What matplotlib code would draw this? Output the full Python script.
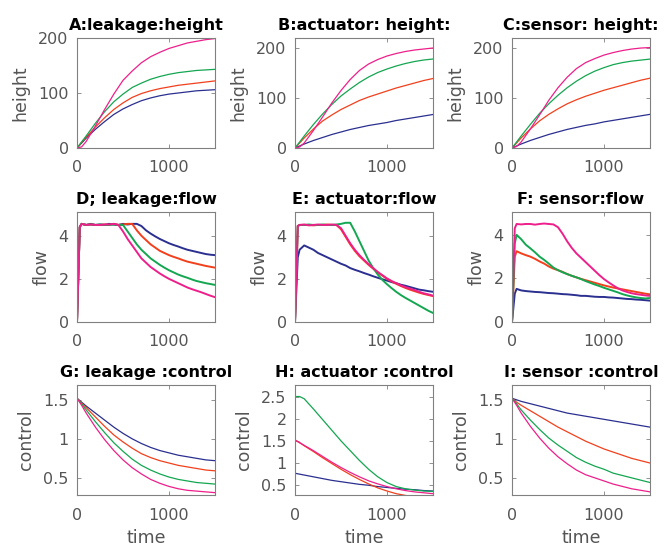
import numpy as np
import matplotlib
matplotlib.use("Agg")
import matplotlib.pyplot as plt
from matplotlib.ticker import FuncFormatter

# time grids
t_smooth = [0, 50, 100, 200, 300, 400, 500, 600, 700, 800, 900, 1000, 1100, 1200, 1300, 1400, 1500]
t_flow = [0, 30, 50, 100, 150, 200, 250, 300, 350, 400, 450, 500, 550, 600, 650, 700,
          750, 800, 850, 900, 950, 1000, 1050, 1100, 1150, 1200, 1250, 1300, 1350, 1400, 1450, 1500]

# A : leakage height
a_blue = [0, 9, 18, 34, 48, 61, 71, 79, 86, 91, 95, 98, 100, 102, 104, 105, 106]
a_red = [0, 10, 20, 38, 55, 70, 82, 92, 99, 104, 108, 111, 114, 116, 118, 120, 122]
a_green = [0, 11, 22, 45, 66, 84, 98, 110, 118, 125, 130, 134, 137, 139, 141, 142, 143]
a_mag = [0, 2, 12, 40, 70, 98, 123, 140, 155, 166, 174, 181, 186, 191, 194, 197, 199]

# B : actuator height
b_blue = [0, 4, 8, 15, 21, 27, 32, 37, 41, 45, 48, 51, 55, 58, 61, 64, 67]
b_red = [0, 10, 20, 38, 54, 66, 77, 86, 95, 102, 108, 114, 120, 125, 130, 135, 139]
b_green = [0, 12, 24, 47, 68, 87, 104, 118, 131, 142, 151, 158, 164, 169, 173, 176, 178]
b_mag = [0, 2, 10, 35, 62, 90, 115, 137, 155, 168, 177, 184, 189, 193, 196, 198, 200]

# C : sensor height
c_blue = [0, 4, 8, 15, 21, 27, 32, 37, 41, 45, 48, 52, 55, 58, 61, 64, 67]
c_red = [0, 10, 20, 38, 54, 67, 78, 88, 96, 103, 109, 115, 120, 125, 130, 135, 139]
c_green = [0, 12, 24, 47, 69, 88, 105, 120, 133, 144, 153, 160, 166, 170, 173, 175, 177]
c_mag = [0, 3, 12, 38, 66, 95, 120, 141, 158, 170, 178, 185, 190, 194, 197, 199, 200]

# D : leakage flow
d_blue = [0, 4.4, 4.55, 4.5, 4.55, 4.5, 4.52, 4.5, 4.55, 4.52, 4.5, 4.55, 4.52, 4.55, 4.55, 4.45,
          4.25, 4.1, 3.97, 3.85, 3.75, 3.65, 3.57, 3.5, 3.42, 3.35, 3.3, 3.25, 3.2, 3.15, 3.12, 3.1]
d_red = [0, 4.4, 4.55, 4.5, 4.52, 4.5, 4.5, 4.52, 4.5, 4.55, 4.5, 4.52, 4.55, 4.55, 4.25, 4.0,
         3.8, 3.6, 3.45, 3.3, 3.2, 3.1, 3.02, 2.95, 2.87, 2.8, 2.75, 2.7, 2.65, 2.6, 2.56, 2.52]
d_green = [0, 4.4, 4.55, 4.5, 4.52, 4.5, 4.52, 4.5, 4.5, 4.52, 4.5, 4.5, 4.2, 3.9, 3.6, 3.35,
           3.15, 2.95, 2.8, 2.65, 2.52, 2.4, 2.3, 2.2, 2.12, 2.05, 1.97, 1.9, 1.85, 1.8, 1.76, 1.72]
d_mag = [0, 4.4, 4.55, 4.5, 4.52, 4.5, 4.5, 4.52, 4.52, 4.55, 4.5, 4.2, 3.85, 3.55, 3.25, 2.95,
         2.75, 2.55, 2.4, 2.25, 2.12, 2.0, 1.9, 1.8, 1.7, 1.6, 1.52, 1.45, 1.38, 1.3, 1.22, 1.15]

# E : actuator flow
e_blue = [0, 3.0, 3.35, 3.55, 3.45, 3.35, 3.2, 3.1, 3.0, 2.9, 2.8, 2.7, 2.62, 2.5, 2.42, 2.35,
          2.27, 2.2, 2.12, 2.05, 1.98, 1.92, 1.85, 1.8, 1.73, 1.68, 1.62, 1.56, 1.5, 1.47, 1.43, 1.4]
e_red = [0, 4.45, 4.5, 4.5, 4.5, 4.48, 4.5, 4.5, 4.52, 4.5, 4.5, 4.3, 3.95, 3.6, 3.3, 3.05,
         2.85, 2.65, 2.47, 2.3, 2.15, 2.0, 1.88, 1.77, 1.67, 1.58, 1.5, 1.43, 1.36, 1.3, 1.25, 1.2]
e_green = [0, 4.45, 4.5, 4.5, 4.52, 4.5, 4.5, 4.52, 4.5, 4.5, 4.52, 4.55, 4.6, 4.6, 4.2, 3.75,
           3.3, 2.85, 2.5, 2.2, 1.95, 1.75, 1.57, 1.4, 1.25, 1.12, 1.0, 0.88, 0.76, 0.64, 0.52, 0.42]
e_mag = [0, 4.45, 4.5, 4.52, 4.48, 4.5, 4.52, 4.5, 4.5, 4.52, 4.5, 4.35, 4.0, 3.65, 3.35, 3.1,
         2.88, 2.68, 2.5, 2.32, 2.17, 2.02, 1.9, 1.8, 1.7, 1.62, 1.55, 1.48, 1.4, 1.33, 1.28, 1.22]

# F : sensor flow
f_blue = [0, 1.3, 1.52, 1.45, 1.42, 1.4, 1.38, 1.37, 1.35, 1.33, 1.32, 1.3, 1.28, 1.27, 1.25, 1.23,
          1.2, 1.2, 1.18, 1.16, 1.15, 1.15, 1.13, 1.12, 1.1, 1.08, 1.06, 1.05, 1.03, 1.02, 1.0, 0.98]
f_red = [0, 3.0, 3.25, 3.15, 3.07, 3.0, 2.9, 2.78, 2.68, 2.55, 2.45, 2.38, 2.3, 2.2, 2.12, 2.05,
         1.98, 1.92, 1.86, 1.8, 1.74, 1.68, 1.63, 1.58, 1.54, 1.5, 1.46, 1.42, 1.38, 1.34, 1.3, 1.27]
f_green = [0, 3.6, 4.0, 3.8, 3.55, 3.38, 3.2, 3.0, 2.85, 2.68, 2.5, 2.38, 2.28, 2.2, 2.12, 2.05,
           1.97, 1.88, 1.8, 1.72, 1.65, 1.57, 1.5, 1.43, 1.36, 1.28, 1.22, 1.17, 1.13, 1.1, 1.08, 1.1]
f_mag = [0, 4.3, 4.5, 4.48, 4.5, 4.5, 4.47, 4.5, 4.52, 4.5, 4.48, 4.35, 4.05, 3.7, 3.4, 3.15,
         2.95, 2.75, 2.55, 2.35, 2.15, 1.97, 1.82, 1.68, 1.55, 1.45, 1.38, 1.32, 1.28, 1.25, 1.22, 1.2]

# G : leakage control
g_blue = [1.52, 1.47, 1.42, 1.33, 1.24, 1.15, 1.07, 1.0, 0.94, 0.89, 0.85, 0.82, 0.79, 0.77, 0.75, 0.73, 0.72]
g_red = [1.52, 1.46, 1.4, 1.28, 1.16, 1.05, 0.96, 0.88, 0.81, 0.76, 0.72, 0.69, 0.66, 0.64, 0.62, 0.6, 0.59]
g_green = [1.52, 1.45, 1.37, 1.22, 1.08, 0.95, 0.84, 0.74, 0.66, 0.6, 0.55, 0.51, 0.48, 0.46, 0.44, 0.43, 0.42]
g_mag = [1.52, 1.43, 1.33, 1.15, 0.99, 0.85, 0.73, 0.63, 0.55, 0.48, 0.43, 0.39, 0.36, 0.34, 0.33, 0.32, 0.31]

# H : actuator control
h_blue = [0.77, 0.75, 0.73, 0.69, 0.65, 0.61, 0.58, 0.55, 0.52, 0.5, 0.47, 0.45, 0.43, 0.41, 0.4, 0.38, 0.37]
h_red = [1.52, 1.46, 1.39, 1.26, 1.12, 0.99, 0.86, 0.74, 0.63, 0.53, 0.44, 0.37, 0.31, 0.27, 0.24, 0.21, 0.19]
h_green = [2.5, 2.5, 2.45, 2.22, 1.98, 1.74, 1.5, 1.28, 1.06, 0.86, 0.69, 0.56, 0.47, 0.42, 0.39, 0.37, 0.36]
h_mag = [1.52, 1.46, 1.4, 1.28, 1.15, 1.02, 0.9, 0.79, 0.69, 0.6, 0.53, 0.47, 0.42, 0.38, 0.35, 0.33, 0.31]

# I : sensor control
i_blue = [1.52, 1.5, 1.48, 1.45, 1.42, 1.39, 1.36, 1.33, 1.31, 1.29, 1.27, 1.25, 1.23, 1.21, 1.19, 1.17, 1.15]
i_red = [1.52, 1.47, 1.43, 1.36, 1.29, 1.22, 1.15, 1.09, 1.03, 0.97, 0.92, 0.87, 0.83, 0.79, 0.75, 0.72, 0.69]
i_green = [1.52, 1.45, 1.37, 1.24, 1.12, 1.01, 0.92, 0.84, 0.76, 0.7, 0.65, 0.61, 0.56, 0.53, 0.5, 0.47, 0.44]
i_mag = [1.52, 1.43, 1.33, 1.16, 1.01, 0.88, 0.77, 0.68, 0.6, 0.54, 0.5, 0.46, 0.42, 0.39, 0.36, 0.34, 0.32]

titles = ["A:leakage:height", "B:actuator: height:", "C:sensor: height:",
          "D; leakage:flow", "E: actuator:flow", "F: sensor:flow",
          "G: leakage :control", "H: actuator :control", "I: sensor :control"]

colors = ["#2b2f8f", "#f2401c", "#14a651", "#ee1f8b"]

panels = [
    (t_smooth, [a_blue, a_red, a_green, a_mag]),
    (t_smooth, [b_blue, b_red, b_green, b_mag]),
    (t_smooth, [c_blue, c_red, c_green, c_mag]),
    (t_flow, [d_blue, d_red, d_green, d_mag]),
    (t_flow, [e_blue, e_red, e_green, e_mag]),
    (t_flow, [f_blue, f_red, f_green, f_mag]),
    (t_smooth, [g_blue, g_red, g_green, g_mag]),
    (t_smooth, [h_blue, h_red, h_green, h_mag]),
    (t_smooth, [i_blue, i_red, i_green, i_mag]),
]

ylims = [(0, 200), (0, 220), (0, 219), (0, 5.1), (0, 5.1), (0, 5.05),
         (0.28, 1.69), (0.28, 2.76), (0.28, 1.69)]
yticks = [[0, 100, 200], [0, 100, 200], [0, 100, 200], [0, 2, 4], [0, 2, 4], [0, 2, 4],
          [0.5, 1, 1.5], [0.5, 1, 1.5, 2, 2.5], [0.5, 1, 1.5]]
ylabels = ["height"] * 3 + ["flow"] * 3 + ["control"] * 3

lefts = [77, 295, 512]
tops = [38, 212, 385]
W, H = 667, 550

plt.rcParams['font.family'] = 'DejaVu Sans'
fig = plt.figure(figsize=(6.67, 5.5), dpi=100)

txt_gray = "#555555"
for k in range(9):
    r, c = divmod(k, 3)
    ax = fig.add_axes([lefts[c] / W, (H - tops[r] - 110) / H, 138 / W, 110 / H])
    t, series = panels[k]
    lw = 1.4 if r == 1 else 0.9
    for y, col in zip(series, colors):
        ax.plot(t, y, color=col, lw=lw)
    ax.set_xlim(0, 1500)
    ax.set_ylim(*ylims[k])
    ax.set_xticks([0, 1000])
    ax.set_yticks(yticks[k])
    ax.yaxis.set_major_formatter(FuncFormatter(lambda v, p: "%g" % v))
    ax.tick_params(direction='in', top=True, right=True, length=3, width=0.6,
                   color="#808080", labelcolor=txt_gray, labelsize=11.5)
    ax.tick_params(axis='x', pad=9)
    ax.tick_params(axis='y', pad=6)
    for s in ax.spines.values():
        s.set_color("#808080")
        s.set_linewidth(0.8)
    ax.set_title(titles[k], fontsize=11.5, fontweight='bold', pad=6)
    ax.set_ylabel(ylabels[k], fontsize=12.5, color=txt_gray, labelpad=6)
    if r == 2:
        ax.set_xlabel("time", fontsize=12.5, color=txt_gray, labelpad=5)

fig.savefig("out.png", dpi=100)
